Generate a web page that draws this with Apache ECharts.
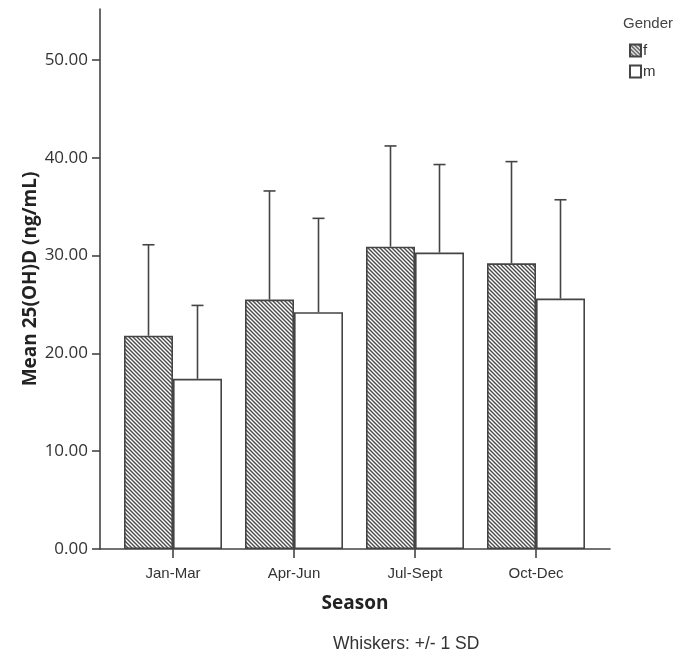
<!DOCTYPE html>
<html>
<head>
<meta charset="utf-8">
<script src="https://cdn.jsdelivr.net/npm/echarts@6/dist/echarts.min.js"></script>
<style>
  html, body { margin: 0; padding: 0; background: #fff; }
  #chart { width: 689px; height: 662px; }
</style>
</head>
<body>
<div id="chart"></div>
<script>
// data
const seasons = ['Jan-Mar', 'Apr-Jun', 'Jul-Sept', 'Oct-Dec']
const genders = ['f', 'm']
const femaleMean = [21.8, 25.5, 30.9, 29.2]
const maleMean = [17.4, 24.2, 30.3, 25.6]
const femaleSD = [9.3, 11.1, 10.3, 10.4]
const maleSD = [7.5, 9.6, 9.0, 10.1]
const yTicks = [0, 10, 20, 30, 40, 50]

const axisColor = '#444'
const textColor = '#333'
const barW = 49

// hatch fill for the f bars
const makeHatch = () => {
  const c = document.createElement('canvas')
  c.width = 4
  c.height = 4
  const ctx = c.getContext('2d')
  ctx.fillStyle = '#fff'
  ctx.fillRect(0, 0, 4, 4)
  ctx.strokeStyle = '#4a4a4a'
  ctx.lineWidth = 1.4
  ctx.beginPath()
  ctx.moveTo(-1, -1); ctx.lineTo(5, 5)
  ctx.moveTo(-1, 3); ctx.lineTo(1, 5)
  ctx.moveTo(3, -1); ctx.lineTo(5, 1)
  ctx.stroke()
  return c
}
const hatch = { image: makeHatch(), repeat: 'repeat' }

const whiskerData = (means, sds) => means.map((m, i) => [i, m, m + sds[i]])

const whiskerSeries = (name, means, sds, offset) => ({
  type: 'custom',
  name: name + '_sd',
  xAxisIndex: 1,
  yAxisIndex: 1,
  z: 5,
  silent: true,
  data: whiskerData(means, sds),
  renderItem: (params, api) => {
    const lo = api.coord([api.value(0), api.value(1)])
    const hi = api.coord([api.value(0), api.value(2)])
    const x = lo[0] + offset
    const style = { stroke: axisColor, lineWidth: 1.6 }
    return {
      type: 'group',
      children: [
        { type: 'line', shape: { x1: x, y1: lo[1], x2: x, y2: hi[1] }, style },
        { type: 'line', shape: { x1: x - 6, y1: hi[1], x2: x + 6, y2: hi[1] }, style }
      ]
    }
  }
})

const chart = echarts.init(document.getElementById('chart'))

const option = {
  animation: false,
  backgroundColor: '#fff',
  grid: [
    { left: 100, right: 79, top: 9, bottom: 113 },
    { left: 112.5, right: 92.5, top: 9, bottom: 113 }
  ],
  legend: {
    data: genders,
    orient: 'vertical',
    left: 624,
    top: 38,
    padding: 5,
    itemWidth: 11,
    itemHeight: 12,
    itemGap: 6,
    icon: 'rect',
    textStyle: {
      fontFamily: 'Liberation Sans',
      fontSize: 15,
      lineHeight: 15,
      color: textColor,
      padding: [0, 0, 0, -3]
    }
  },
  graphic: [
    {
      type: 'text',
      left: 623,
      top: 16,
      style: { text: 'Gender', font: '15px "Liberation Sans"', fill: '#444' }
    },
    {
      type: 'text',
      left: 333,
      top: 635,
      style: { text: 'Whiskers: +/- 1 SD', font: '17.5px "Liberation Sans"', fill: textColor }
    }
  ],
  xAxis: [
    {
      type: 'value',
      gridIndex: 0,
      min: 0,
      max: 1,
      name: 'Season',
      nameLocation: 'middle',
      nameGap: 45,
      nameMoveOverlap: false,
      nameTextStyle: { fontFamily: 'Open Sans', fontWeight: 'bold', fontSize: 19, color: '#222' },
      axisLine: { show: true, lineStyle: { color: axisColor, width: 1.6 } },
      axisTick: { show: false },
      axisLabel: { show: false },
      splitLine: { show: false }
    },
    {
      type: 'category',
      gridIndex: 1,
      data: seasons,
      axisLine: { show: false },
      axisTick: { show: true, alignWithLabel: true, length: 9, lineStyle: { color: axisColor, width: 1.6 } },
      axisLabel: { margin: 17, fontFamily: 'Liberation Sans', fontSize: 15, color: textColor },
      splitLine: { show: false }
    }
  ],
  yAxis: [
    {
      type: 'value',
      gridIndex: 0,
      min: 0,
      max: 55.2,
      name: 'Mean 25(OH)D (ng/mL)',
      nameLocation: 'middle',
      nameGap: 60,
      nameMoveOverlap: false,
      nameTextStyle: { fontFamily: 'Open Sans', fontWeight: 'bold', fontSize: 19, color: '#222' },
      axisLine: { show: true, lineStyle: { color: axisColor, width: 1.6 } },
      axisTick: { show: true, length: 8, customValues: yTicks, lineStyle: { color: axisColor, width: 1.6 } },
      axisLabel: {
        customValues: yTicks,
        margin: 12,
        fontFamily: 'Open Sans',
        fontSize: 17,
        color: textColor,
        formatter: (v) => v.toFixed(2)
      },
      splitLine: { show: false }
    },
    {
      type: 'value',
      gridIndex: 1,
      min: 0,
      max: 55.2,
      show: false
    }
  ],
  series: [
    {
      type: 'bar',
      name: 'f',
      xAxisIndex: 1,
      yAxisIndex: 1,
      barWidth: barW,
      barGap: '0%',
      data: femaleMean,
      itemStyle: { color: hatch, borderColor: axisColor, borderWidth: 1.6 }
    },
    {
      type: 'bar',
      name: 'm',
      xAxisIndex: 1,
      yAxisIndex: 1,
      barWidth: barW,
      barGap: '0%',
      data: maleMean,
      itemStyle: { color: '#fff', borderColor: axisColor, borderWidth: 1.6 }
    },
    whiskerSeries('f', femaleMean, femaleSD, -barW / 2),
    whiskerSeries('m', maleMean, maleSD, barW / 2)
  ]
}

chart.setOption(option)
</script>
</body>
</html>
